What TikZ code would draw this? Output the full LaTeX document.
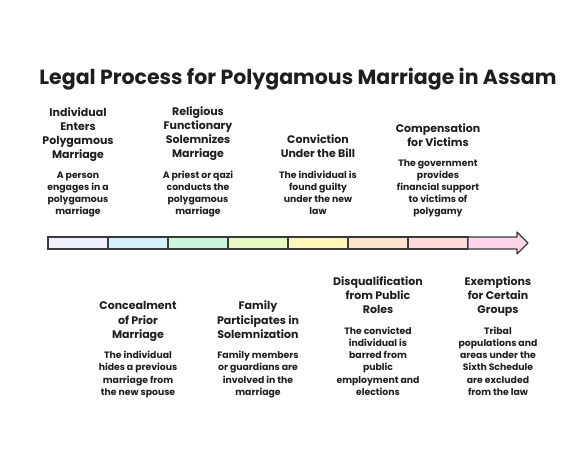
\documentclass[tikz,border=0pt]{standalone}
\usepackage{fontspec}
\setmainfont{Poppins}
\definecolor{c1}{HTML}{EEF0FB}
\definecolor{c2}{HTML}{D3F0FB}
\definecolor{c3}{HTML}{CCF5DE}
\definecolor{c4}{HTML}{E6F8C4}
\definecolor{c5}{HTML}{FFF6B8}
\definecolor{c6}{HTML}{FFE3CC}
\definecolor{c7}{HTML}{FFD9D9}
\definecolor{c8}{HTML}{FFD3EA}
\definecolor{ink}{HTML}{1E1E1E}
\definecolor{edge}{HTML}{3A3A3A}
\begin{document}
\begin{tikzpicture}[x=1pt,y=-1pt,
  seg/.style={draw=edge,line width=1.1pt,minimum width=60pt,minimum height=12pt,inner sep=0pt,outer sep=0pt,anchor=west},
  ttl/.style={align=center,inner sep=0pt,text depth=2.5pt,font=\bfseries\fontsize{11}{14.2}\selectfont,text=ink,anchor=south},
  dsc/.style={align=center,inner sep=0pt,text depth=2.5pt,font=\bfseries\fontsize{9.3}{12.2}\selectfont,text=ink,anchor=south},
  heading/.style={inner sep=0pt,font=\bfseries\fontsize{20.5}{24}\selectfont,text=ink}]
\useasboundingbox (0,0) rectangle (588,450);
\node[heading] (title) at (298,79) {Legal Process for Polygamous Marriage in Assam};
% timeline bar
\node[seg,fill=c1] (s1) at (48,243) {};
\node[seg,fill=c2] (s2) at (s1.east) {};
\node[seg,fill=c3] (s3) at (s2.east) {};
\node[seg,fill=c4] (s4) at (s3.east) {};
\node[seg,fill=c5] (s5) at (s4.east) {};
\node[seg,fill=c6] (s6) at (s5.east) {};
\node[seg,fill=c7] (s7) at (s6.east) {};
\coordinate (s8w) at (s7.east);
\draw[draw=edge,line width=1.1pt,fill=c8,line join=round]
  ([yshift=6pt]s8w) -- ++(49,0) -- ++(0,-5) -- ++(11,11) -- ++(-11,11) -- ++(0,-5) -- ([yshift=-6pt]s8w) -- cycle;
% top items
\node[dsc] (d1) at (78,217.5) {A person\\engages in a\\polygamous\\marriage};
\node[ttl] (t1) at ([yshift=10pt]d1.north) {Individual\\Enters\\Polygamous\\Marriage};
\node[dsc] (d3) at (198,217.5) {A priest or qazi\\conducts the\\polygamous\\marriage};
\node[ttl] (t3) at ([yshift=10pt]d3.north) {Religious\\Functionary\\Solemnizes\\Marriage};
\node[dsc] (d5) at (318,217.5) {The individual is\\found guilty\\under the new\\law};
\node[ttl] (t5) at ([yshift=10pt]d5.north) {Conviction\\Under the Bill};
\node[dsc] (d7) at (438,217.5) {The government\\provides\\financial support\\to victims of\\polygamy};
\node[ttl] (t7) at ([yshift=10pt]d7.north) {Compensation\\for Victims};
% bottom items
\node[dsc] (d2) at (138,398) {The individual\\hides a previous\\marriage from\\the new spouse};
\node[ttl] (t2) at ([yshift=10pt]d2.north) {Concealment\\of Prior\\Marriage};
\node[dsc] (d4) at (258,398) {Family members\\or guardians are\\involved in the\\marriage};
\node[ttl] (t4) at ([yshift=10pt]d4.north) {Family\\Participates in\\Solemnization};
\node[dsc] (d6) at (378,398) {The convicted\\individual is\\barred from\\public\\employment and\\elections};
\node[ttl] (t6) at ([yshift=10pt]d6.north) {Disqualification\\from Public\\Roles};
\node[dsc] (d8) at (498,398) {Tribal\\populations and\\areas under the\\Sixth Schedule\\are excluded\\from the law};
\node[ttl] (t8) at ([yshift=10pt]d8.north) {Exemptions\\for Certain\\Groups};
\end{tikzpicture}
\end{document}
